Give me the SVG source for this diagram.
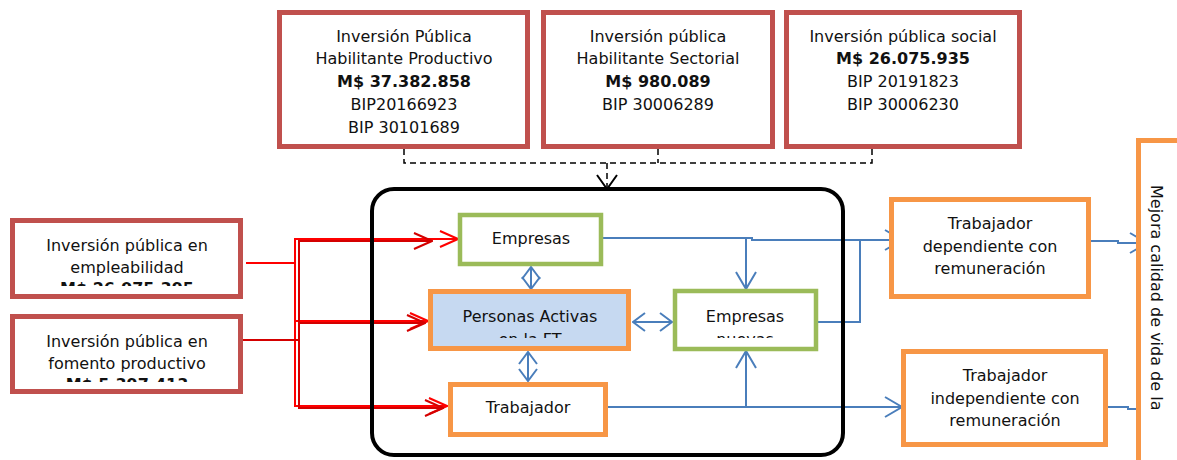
<svg xmlns="http://www.w3.org/2000/svg" width="1177" height="460" viewBox="0 0 1177 460">
<style>
text{font-family:"DejaVu Sans","Verdana",sans-serif;font-size:16px;fill:#111;text-anchor:middle}
.b{font-weight:bold}
.red{fill:#fff;stroke:#C0504D;stroke-width:5}
.grn{fill:#fff;stroke:#9BBB59;stroke-width:4.5}
.org{fill:#fff;stroke:#F79646;stroke-width:5}
.rl{fill:none;stroke:#FF0000;stroke-width:2}
.rl2{fill:none;stroke:#D40000;stroke-width:2}
.bl{fill:none;stroke:#4A7EBB;stroke-width:2}
</style>
<defs>
<marker id="ar" viewBox="0 0 20 20" refX="19" refY="10" markerWidth="20" markerHeight="20" markerUnits="userSpaceOnUse" orient="auto-start-reverse"><path d="M1,2 L19,10 L1,18" fill="none" stroke="#FF0000" stroke-width="2"/></marker>
<marker id="ar2" viewBox="0 0 20 20" refX="19" refY="10" markerWidth="20" markerHeight="20" markerUnits="userSpaceOnUse" orient="auto-start-reverse"><path d="M1,2 L19,10 L1,18" fill="none" stroke="#D40000" stroke-width="2"/></marker>
<marker id="ab" viewBox="0 0 20 22" refX="18" refY="11" markerWidth="20" markerHeight="22" markerUnits="userSpaceOnUse" orient="auto-start-reverse"><path d="M1,1 L18,11 L1,21" fill="none" stroke="#4A7EBB" stroke-width="2"/></marker>
<marker id="abs" viewBox="0 0 14 20" refX="13" refY="10" markerWidth="14" markerHeight="20" markerUnits="userSpaceOnUse" orient="auto-start-reverse"><path d="M1,1 L13,10 L1,19" fill="none" stroke="#4A7EBB" stroke-width="2"/></marker>
<marker id="ak" viewBox="0 0 16 22" refX="15" refY="11" markerWidth="16" markerHeight="22" markerUnits="userSpaceOnUse" orient="auto"><path d="M1,1 L15,11 L1,21" fill="none" stroke="#000" stroke-width="2"/></marker>
<clipPath id="cA"><rect x="15" y="222" width="224" height="64"/></clipPath>
<clipPath id="cB"><rect x="15" y="318" width="224" height="64"/></clipPath>
<clipPath id="cP"><rect x="433" y="294" width="194" height="44"/></clipPath>
<clipPath id="cN"><rect x="677" y="293" width="137" height="45"/></clipPath>
</defs>

<g id="conectores">
<path d="M404,149 V163 H872 V149 M658,149 V163" fill="none" stroke="#000" stroke-width="1.5" stroke-dasharray="6 4"/>
<path d="M607,163 V189" fill="none" stroke="#000" stroke-width="1.5" stroke-dasharray="6 4" marker-end="url(#ak)"/>
<path class="rl" d="M246,263 H295 V239 H458" marker-end="url(#ar)"/>
<path class="rl" d="M295,263 V321 H428" marker-end="url(#ar)"/>
<path class="rl" d="M295,263 V406 H447" marker-end="url(#ar)"/>
<path class="rl2" d="M243,340 H299 V241 H432" marker-end="url(#ar2)"/>
<path class="rl2" d="M299,340 V323 H425" marker-end="url(#ar2)"/>
<path class="rl2" d="M299,340 V408 H443" marker-end="url(#ar2)"/>
<path class="bl" d="M603,238 H752 V240 H902" marker-end="url(#ab)"/>
<path class="bl" d="M746,238 V289" marker-end="url(#ab)"/>
<path class="bl" d="M818,322 H860 V241"/>
<path class="bl" d="M608,407 H902" marker-end="url(#ab)"/>
<path class="bl" d="M746,407 V351" marker-end="url(#ab)"/>
<path class="bl" d="M633,322 H672" marker-start="url(#abs)" marker-end="url(#abs)"/>
<path class="bl" d="M531,267 V289" marker-start="url(#abs)" marker-end="url(#abs)"/>
<path class="bl" d="M528,352 V381" marker-start="url(#abs)" marker-end="url(#abs)"/>
<path class="bl" d="M1091,241 H1118 V243 H1147" marker-end="url(#ab)"/>
<path class="bl" d="M1108,407 H1128 V409 H1156" marker-end="url(#ab)"/>
</g>

<g id="contenedor">
<rect x="372" y="189" width="471" height="266" rx="22" fill="none" stroke="#000" stroke-width="4"/>
</g>

<g id="ip-productivo">
<rect class="red" x="279.5" y="12.5" width="248" height="134"/>
<text x="404" y="42">Inversión Pública</text>
<text x="404" y="64">Habilitante Productivo</text>
<text x="404" y="87" class="b">M$ 37.382.858</text>
<text x="404" y="110">BIP20166923</text>
<text x="404" y="133">BIP 30101689</text>
</g>
<g id="ip-sectorial">
<rect class="red" x="543.5" y="12.5" width="229" height="134"/>
<text x="658" y="42">Inversión pública</text>
<text x="658" y="64">Habilitante Sectorial</text>
<text x="658" y="87" class="b">M$ 980.089</text>
<text x="658" y="110">BIP 30006289</text>
</g>
<g id="ip-social">
<rect class="red" x="786.5" y="12.5" width="233" height="134"/>
<text x="903" y="42">Inversión pública social</text>
<text x="903" y="64" class="b">M$ 26.075.935</text>
<text x="903" y="87">BIP 20191823</text>
<text x="903" y="110">BIP 30006230</text>
</g>

<g id="ip-empleabilidad">
<rect class="red" x="12.5" y="220.5" width="228" height="76"/>
<g clip-path="url(#cA)">
<text x="127" y="251">Inversión pública en</text>
<text x="127" y="273">empleabilidad</text>
<text x="127" y="294" class="b">M$ 26.075.395</text>
</g>
</g>
<g id="ip-fomento">
<rect class="red" x="12.5" y="316.5" width="228" height="75"/>
<g clip-path="url(#cB)">
<text x="127" y="347">Inversión pública en</text>
<text x="127" y="369">fomento productivo</text>
<text x="127" y="390" class="b">M$ 5.397.413</text>
</g>
</g>

<g id="empresas">
<rect class="grn" x="460" y="215" width="141" height="49"/>
<text x="531" y="244">Empresas</text>
</g>
<g id="personas">
<rect x="430.5" y="291.5" width="198" height="57" fill="#C6D9F1" stroke="#F79646" stroke-width="5"/>
<g clip-path="url(#cP)">
<text x="530" y="322">Personas Activas</text>
<text x="530" y="345">en la FT</text>
</g>
</g>
<g id="empresas-nuevas">
<rect class="grn" x="675" y="291" width="141" height="58"/>
<g clip-path="url(#cN)">
<text x="745" y="322">Empresas</text>
<text x="745" y="345">nuevas</text>
</g>
</g>
<g id="trabajador">
<rect class="org" x="450.5" y="384.5" width="155" height="50"/>
<text x="528" y="413">Trabajador</text>
</g>

<g id="trab-dependiente">
<rect class="org" x="891.5" y="199.5" width="197" height="97"/>
<text x="990" y="229">Trabajador</text>
<text x="990" y="252">dependiente con</text>
<text x="990" y="274">remuneración</text>
</g>
<g id="trab-independiente">
<rect class="org" x="903.5" y="351.5" width="202" height="93"/>
<text x="1005" y="381">Trabajador</text>
<text x="1005" y="404">independiente con</text>
<text x="1005" y="426">remuneración</text>
</g>

<g id="mejora">
<rect class="org" x="1138.5" y="140.5" width="60" height="340"/>
<text x="0" y="0" transform="translate(1151,185) rotate(90)" style="text-anchor:start">Mejora calidad de vida de la</text>
</g>
</svg>
